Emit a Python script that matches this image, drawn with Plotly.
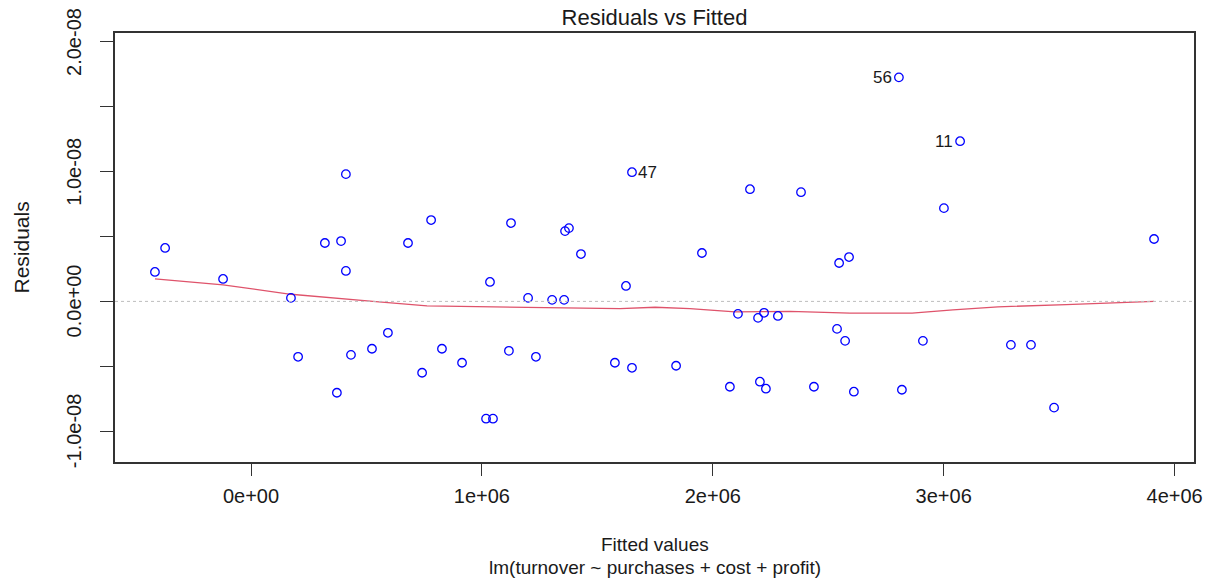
import plotly.graph_objects as go

# Fitted values (units of 1e6) and residuals (units of 1e-8)
fitted_m = [-0.416, -0.372, -0.121, 0.173, 0.204, 0.320, 0.372, 0.390, 0.411, 0.411,
            0.433, 0.524, 0.593, 0.680, 0.741, 0.780, 0.827, 0.914, 1.018, 1.048,
            1.035, 1.117, 1.126, 1.200, 1.234, 1.304, 1.356, 1.360, 1.377, 1.429,
            1.576, 1.624, 1.650, 1.650, 1.841, 1.953, 2.074, 2.109, 2.161, 2.196,
            2.204, 2.222, 2.230, 2.282, 2.382, 2.438, 2.538, 2.547, 2.573, 2.590,
            2.611, 2.806, 2.819, 2.910, 3.001, 3.071, 3.291, 3.378, 3.478, 3.911]
resid_e8 = [0.227, 0.412, 0.173, 0.027, -0.427, 0.450, -0.704, 0.465, 0.981, 0.235,
            -0.412, -0.365, -0.242, 0.450, -0.550, 0.627, -0.365, -0.473, -0.904, -0.904,
            0.150, -0.381, 0.604, 0.027, -0.427, 0.012, 0.012, 0.542, 0.565, 0.365,
            -0.473, 0.119, 0.996, -0.512, -0.496, 0.373, -0.658, -0.096, 0.865, -0.127,
            -0.619, -0.088, -0.673, -0.112, 0.842, -0.658, -0.212, 0.296, -0.304, 0.342,
            -0.696, 1.727, -0.681, -0.304, 0.719, 1.235, -0.335, -0.335, -0.819, 0.481]

# Smoother line (lowess)
smooth_x_m = [-0.416, -0.121, 0.173, 0.411, 0.528, 0.762, 1.122, 1.598, 1.750, 1.901,
              2.096, 2.334, 2.594, 2.863, 3.040, 3.235, 3.530, 3.751, 3.911]
smooth_y_e8 = [0.173, 0.127, 0.055, 0.022, 0.0, -0.035, -0.045, -0.055, -0.045, -0.055,
               -0.081, -0.077, -0.091, -0.091, -0.065, -0.042, -0.025, -0.009, 0.0]

# Labelled observations: (label, index into arrays, side)
label_names = ["56", "11", "47"]
label_index = [51, 55, 32]
label_side = ["left", "left", "right"]

x_tickvals_m = [0, 1, 2, 3, 4]
x_ticktext = ["0e+00", "1e+06", "2e+06", "3e+06", "4e+06"]
y_tickvals_e8 = [-1.0, -0.5, 0.0, 0.5, 1.0, 1.5, 2.0]
y_ticktext = ["-1.0e-08", "", "0.0e+00", "", "1.0e-08", "", "2.0e-08"]

title_text = "Residuals vs Fitted"
x_title = "Fitted values"
x_subtitle = "lm(turnover ~ purchases + cost + profit)"
y_title = "Residuals"

fitted = [v * 1e6 for v in fitted_m]
resid = [v * 1e-8 for v in resid_e8]
sx = [v * 1e6 for v in smooth_x_m]
sy = [v * 1e-8 for v in smooth_y_e8]

FONT = "Liberation Sans, Arial, sans-serif"
TXT = "#1a1a1a"

fig = go.Figure()
fig.add_hline(y=0, line=dict(color="#BEBEBE", width=1, dash="dot"))
fig.add_trace(go.Scatter(x=sx, y=sy, mode="lines",
                         line=dict(color="#DF536B", width=1.3), hoverinfo="skip"))
fig.add_trace(go.Scatter(x=fitted, y=resid, mode="markers",
                         marker=dict(symbol="circle-open", size=8.5, color="#0000FF",
                                     line=dict(width=1.3, color="#0000FF"))))

for name, idx, side in zip(label_names, label_index, label_side):
    fig.add_annotation(x=fitted[idx], y=resid[idx], text=name, showarrow=False,
                       xanchor="right" if side == "left" else "left",
                       xshift=-5 if side == "left" else 4,
                       font=dict(family=FONT, size=17, color=TXT))

# rotated y tick labels, placed as in R
for v, t in zip(y_tickvals_e8, y_ticktext):
    if t:
        fig.add_annotation(x=0, xref="paper", y=v * 1e-8, yref="y", text=t,
                           textangle=-90, showarrow=False, xanchor="center",
                           yanchor="middle", xshift=-41,
                           font=dict(family=FONT, size=20, color=TXT))

# axis titles
fig.add_annotation(x=0, xref="paper", y=0.5, yref="paper", text=y_title,
                   textangle=-90, showarrow=False, xanchor="center", yanchor="middle",
                   xshift=-94, font=dict(family=FONT, size=21, color=TXT))
fig.add_annotation(x=0.5, xref="paper", y=0, yref="paper", text=x_title,
                   showarrow=False, xanchor="center", yanchor="middle",
                   yshift=-82, font=dict(family=FONT, size=19, color=TXT))
fig.add_annotation(x=0.5, xref="paper", y=0, yref="paper", text=x_subtitle,
                   showarrow=False, xanchor="center", yanchor="middle",
                   yshift=-105, font=dict(family=FONT, size=19, color=TXT))

fig.update_layout(
    width=1214, height=582,
    margin=dict(l=115, r=20, t=33, b=120, autoexpand=False),
    paper_bgcolor="white", plot_bgcolor="white",
    showlegend=False,
    font=dict(family=FONT, color=TXT),
    title=dict(text=title_text, x=0.5, xref="paper", xanchor="center",
               y=1 - 17.5 / 582, yref="container", yanchor="middle",
               font=dict(family=FONT, size=22, color=TXT)),
)

fig.update_xaxes(
    range=[-0.589e6, 4.084e6], automargin=False,
    tickmode="array", tickvals=[v * 1e6 for v in x_tickvals_m], ticktext=x_ticktext,
    ticks="outside", ticklen=12, tickwidth=1.3, tickcolor="#333",
    ticklabelstandoff=3,
    showline=True, linecolor="#333", linewidth=1.5, mirror=True,
    showgrid=False, zeroline=False,
    tickfont=dict(family=FONT, size=20, color=TXT),
)
fig.update_yaxes(
    range=[-1.238e-8, 2.069e-8], automargin=False,
    tickmode="array", tickvals=[v * 1e-8 for v in y_tickvals_e8],
    showticklabels=False,
    ticks="outside", ticklen=13, tickwidth=1.3, tickcolor="#333",
    showline=True, linecolor="#333", linewidth=1.5, mirror=True,
    showgrid=False, zeroline=False,
)

fig.write_html("out.html")
